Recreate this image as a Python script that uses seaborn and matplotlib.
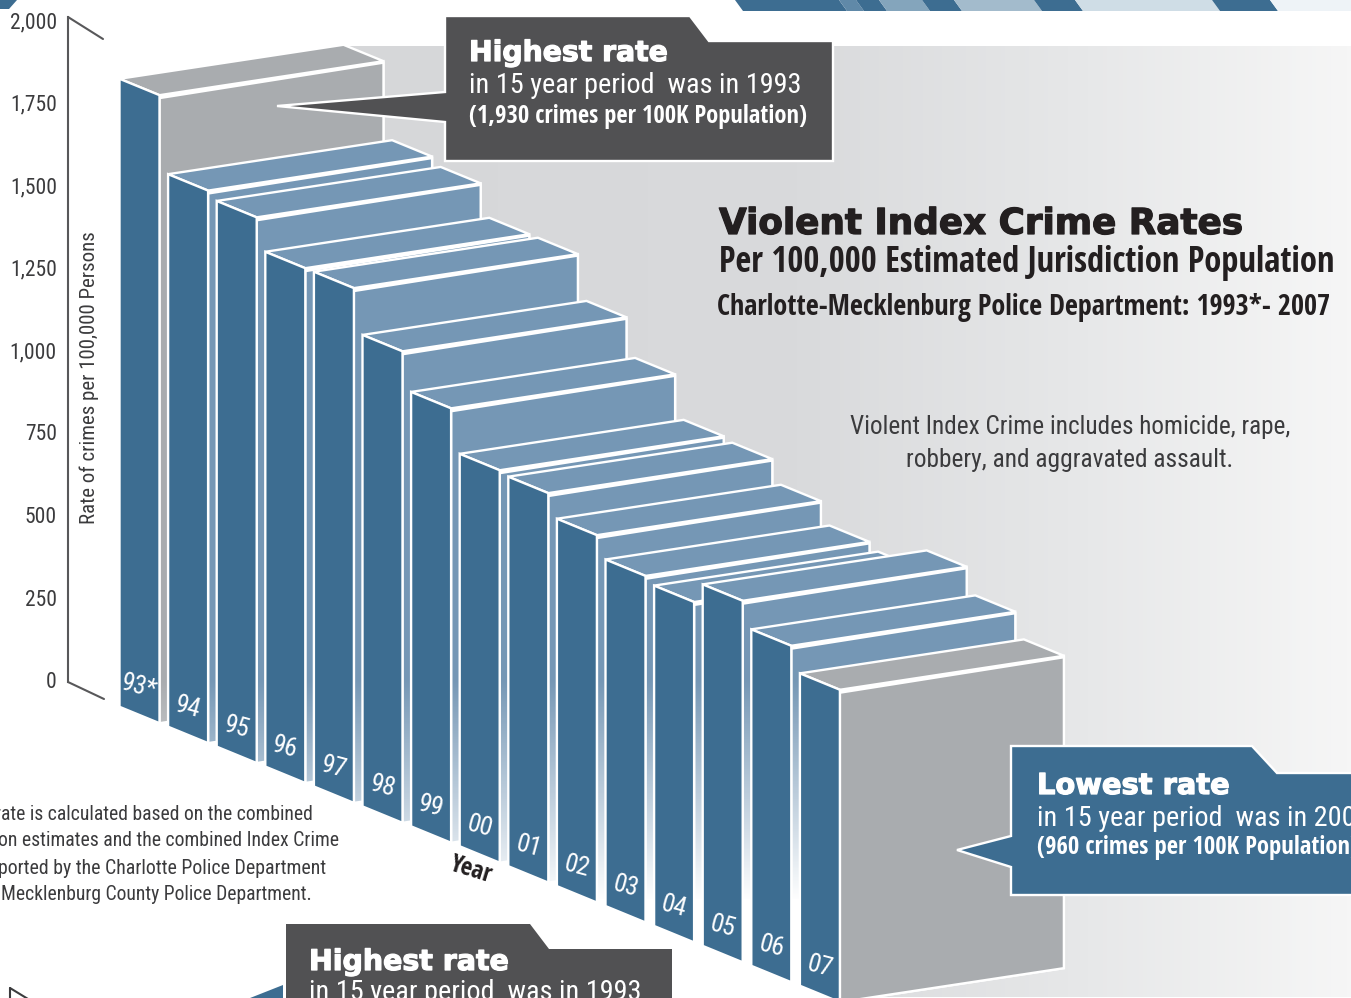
import numpy as np
import pandas as pd
import seaborn as sns
import matplotlib
matplotlib.use('Agg')
import matplotlib.pyplot as plt
import matplotlib.patheffects as pe
from matplotlib.colors import LinearSegmentedColormap
from matplotlib.patches import Polygon
from matplotlib.transforms import Affine2D

# values
year_labels = ['93*', '94', '95', '96', '97', '98', '99', '00', '01', '02', '03', '04', '05', '06', '07']
rates = [1930, 1698, 1677, 1582, 1582, 1449, 1335, 1206, 1197, 1129, 1065, 1046, 1111, 1034, 960]
axis_ticks = [0, 250, 500, 750, 1000, 1250, 1500, 1750, 2000]
highlight = ['93*', '07']

W, H = 1351, 998
DARK = '#3d6d91'
LIGHT = '#7597b5'
GREY = '#a9acaf'
CALL_DARK = '#515153'
TEXT = '#3b3b3d'
INK = '#231f20'
BODY = ['Roboto Condensed', 'DejaVu Sans']
BOLD = ['Open Sans Condensed', 'DejaVu Sans']
WIDE = ['DejaVu Sans']

# px per bar, px per crime, downward slope of the baseline
STEP = 48.6
SCALE = 0.3254
SLOPE = 0.41
BAR_W = 40 / STEP
DEPTH_X = 224 / STEP
DEPTH_R = (34 + SLOPE * 224) / SCALE
LIP = 9  # gap between the top face and the long face
EDGE = 1.7

sns.set_theme(style='white')
plt.rcParams['font.family'] = BODY


def full_axes(fig, z):
    ax = fig.add_axes([0, 0, 1, 1], zorder=z)
    ax.patch.set_alpha(0)
    return ax


fig = plt.figure(figsize=(W / 100, H / 100), dpi=100, facecolor='white')
renderer = fig.canvas.get_renderer()
ax_bg = full_axes(fig, 0)
ax_axis = full_axes(fig, 1)
ax_bars = full_axes(fig, 2)
ax_fg = full_axes(fig, 3)


def label(x, y, s, width=None, size=16, **kw):
    # width is the width in pixels that the text has in the source
    t = ax_fg.text(x, y, s, fontsize=size, va='center', **kw)
    if width:
        t.set_fontsize(size * width / t.get_window_extent(renderer).width)
    return t


def heavy(x, y, s, width, color):
    # the source uses a black extended face, a thin stroke gets DejaVu closer
    t = label(x, y, s, width, color=color, fontweight='bold', family=WIDE)
    t.set_path_effects([pe.withStroke(linewidth=0.9, foreground=color)])
    return t


# background pane
grad = LinearSegmentedColormap.from_list('pane', [(0, '#d6d7d9'), (0.45, '#d9dadc'), (0.72, '#e6e7e8'), (1, '#f6f6f6')])
im = ax_bg.imshow(np.linspace(0, 1, 256)[None, :], cmap=grad, extent=(345, W, 997, 46), aspect='auto')
pane = Polygon([(345, 46), (W, 46), (W, 997), (842, 997), (384, 300)], transform=ax_bg.transData, fc='none', ec='none')
ax_bg.add_patch(pane)
im.set_clip_path(pane)
ax_bg.set_xlim(0, W)
ax_bg.set_ylim(H, 0)
ax_bg.axis('off')

# rate axis
ax_axis.set_xlim(0, W)
ax_axis.set_ylim((680 - H) / 0.33, 680 / 0.33)
for s in ['top', 'right', 'bottom']:
    ax_axis.spines[s].set_visible(False)
ax_axis.spines['left'].set_position(('data', 68))
ax_axis.spines['left'].set_bounds(-6, 2009)
ax_axis.spines['left'].set_color('#58585a')
ax_axis.spines['left'].set_linewidth(1.5)
ax_axis.set_xticks([])
ax_axis.set_yticks(axis_ticks)
ax_axis.set_yticklabels([f'{t:,}' for t in axis_ticks], fontsize=15.5, color=TEXT)
ax_axis.tick_params(axis='y', length=0, pad=8)
ax_axis.set_ylabel('Rate of crimes per 100,000 Persons', fontsize=15, color=TEXT)
ax_axis.yaxis.set_label_coords(99 / W, (H - 378) / H)

# bars
df = pd.DataFrame({'pos': np.arange(len(rates)), 'rate': rates})
sns.barplot(data=df, x='pos', y='rate', native_scale=True, width=BAR_W, color=DARK, saturation=1,
            errorbar=None, edgecolor='white', linewidth=EDGE, ax=ax_bars)

x_lim = ((0 - 139.5) / STEP, (W - 139.5) / STEP)
zero_y = H - 707 + SLOPE * 120
y_lim = (-zero_y / SCALE, (H - zero_y) / SCALE)
ax_bars.set_xlim(x_lim)
ax_bars.set_ylim(y_lim)
ax_bars.autoscale(False)

# shear in display space, so bars step down and tops lean the same way
skew = ax_bars.transData + Affine2D.from_values(1, -SLOPE, 0, 1, 0, 0)

# long faces fade to white from y=680 down to y=900, and stay white below
fade = np.ones((256, 1, 4))
fade[:, 0, 3] = np.clip(np.linspace(0, 340 / 220, 256), 0, 1)
y_fade_low = (H - 1020 - zero_y) / SCALE
y_fade_high = (H - 680 - zero_y) / SCALE

for i, (lab, r) in enumerate(zip(year_labels, rates)):
    z = 10 + 5 * i
    bar = ax_bars.patches[i]
    bar.set_transform(skew)
    bar.set_zorder(z + 4)
    face_col = GREY if lab in highlight else LIGHT
    x0 = i - BAR_W / 2
    x1 = i + BAR_W / 2
    # white backing, long face, top face
    ax_bars.fill([x1, x1 + DEPTH_X, x1 + DEPTH_X, x1], [r, r + DEPTH_R, DEPTH_R, 0], color='white', lw=EDGE,
                 transform=skew, zorder=z)
    face = ax_bars.fill([x1, x1 + DEPTH_X, x1 + DEPTH_X, x1], [r - LIP, r + DEPTH_R - LIP * 0.5, DEPTH_R, 0],
                        fc=face_col, ec='white', lw=EDGE, transform=skew, zorder=z + 1)[0]
    if lab != year_labels[-1]:
        over = ax_bars.imshow(fade, extent=(x_lim[0], x_lim[1], y_fade_low, y_fade_high), aspect='auto',
                              zorder=z + 2, interpolation='bilinear')
        over.set_clip_path(face)
    ax_bars.fill([x0, x1, x1 + DEPTH_X, x0 + DEPTH_X], [r, r, r + DEPTH_R, r + DEPTH_R], fc=face_col, ec='white',
                 lw=EDGE, transform=skew, zorder=z + 3)
    ax_bars.text(i, 85, lab, color='white', fontsize=18.5, rotation=-15, rotation_mode='anchor', ha='center',
                 va='center', transform=skew, zorder=z + 4.5)
ax_bars.set_xlim(x_lim)
ax_bars.set_ylim(y_lim)
ax_bars.axis('off')

# everything drawn in picture pixels from here on
ax_fg.set_xlim(0, W)
ax_fg.set_ylim(H, 0)
ax_fg.axis('off')

# axis end strokes
ax_fg.plot([68, 103], [17, 39], color='#58585a', lw=1.5)
ax_fg.plot([68, 104], [682, 699], color='#58585a', lw=1.5)
ax_fg.text(471, 870, 'Year', color=INK, fontsize=18, fontweight='bold', family=BOLD, rotation=-17, ha='center', va='center')

# banner strip at the top
strip = [(735, 839, DARK), (839, 856, '#6089a8'), (856, 879, DARK), (879, 922, '#84a5bc'), (922, 954, DARK),
         (954, 1034, '#a3bbcc'), (1034, 1075, DARK), (1075, 1212, '#cfdde6'), (1212, 1270, DARK), (1270, 1360, '#eef3f7')]
for a, b, c in strip:
    ax_fg.fill([a, b, b + 8, a + 8], [0, 0, 11, 11], color=c, lw=0)
ax_fg.fill([0, 17, 9, 0], [0, 0, 9, 9], color=DARK, lw=0)

# callouts
ax_fg.fill([445, 690, 709, 833, 833, 445, 445, 277, 445],
           [16, 16, 41, 41, 161, 161, 122, 106, 92], fc=CALL_DARK, ec='white', lw=EDGE)
heavy(469, 53, 'Highest rate', 199, 'white')
label(469, 85, 'in 15 year period  was in 1993', 332, color='white')
label(469, 116, '(1,930 crimes per 100K Population)', 338, color='white', fontweight='bold', family=BOLD)

ax_fg.fill([1011, 1252, 1277, 1360, 1360, 1011, 1011, 957, 1011],
           [746, 746, 773, 773, 895, 895, 867, 850, 836], fc=DARK, ec='white', lw=EDGE)
heavy(1037, 786, 'Lowest rate', 193, 'white')
label(1037, 818, 'in 15 year period  was in 2007', 332, color='white')
label(1037, 848, '(960 crimes per 100K Population)', 322, color='white', fontweight='bold', family=BOLD)

ax_fg.fill([286, 530, 549, 672, 672, 286], [924, 924, 949, 949, 1010, 1010], fc=CALL_DARK, ec='none')
heavy(309, 962, 'Highest rate', 200, 'white')
label(309, 992, 'in 15 year period  was in 1993', 332, color='white')
ax_fg.fill([245, 283, 283], [1000, 985, 1000], color=DARK, lw=0)
ax_fg.plot([10, 10], [988, 1000], color=TEXT, lw=1.5)
ax_fg.plot([10, 28], [988, 999], color=TEXT, lw=1.5)

# titles
heavy(719, 224, 'Violent Index Crime Rates', 525, INK)
label(719, 263, 'Per 100,000 Estimated Jurisdiction Population', 617, color=INK, fontweight='bold', family=BOLD)
label(717, 307, 'Charlotte-Mecklenburg Police Department: 1993*- 2007', 616, color=INK, fontweight='bold', family=BOLD)
label(1070, 427, 'Violent Index Crime includes homicide, rape,', 442, color=TEXT, ha='center')
label(1070, 460, 'robbery, and aggravated assault.', 328, color=TEXT, ha='center')

# footnote, cut by the left edge in the source
label(313, 815, 'rate is calculated based on the combined', 319, color=TEXT, ha='right')
label(339, 841, 'on estimates and the combined Index Crime', 344, color=TEXT, ha='right')
label(326, 868, 'ported by the Charlotte Police Department', 330, color=TEXT, ha='right')
label(312, 895, 'Mecklenburg County Police Department.', 312, color=TEXT, ha='right')

plt.savefig('out.png', dpi=100)
plt.close()
